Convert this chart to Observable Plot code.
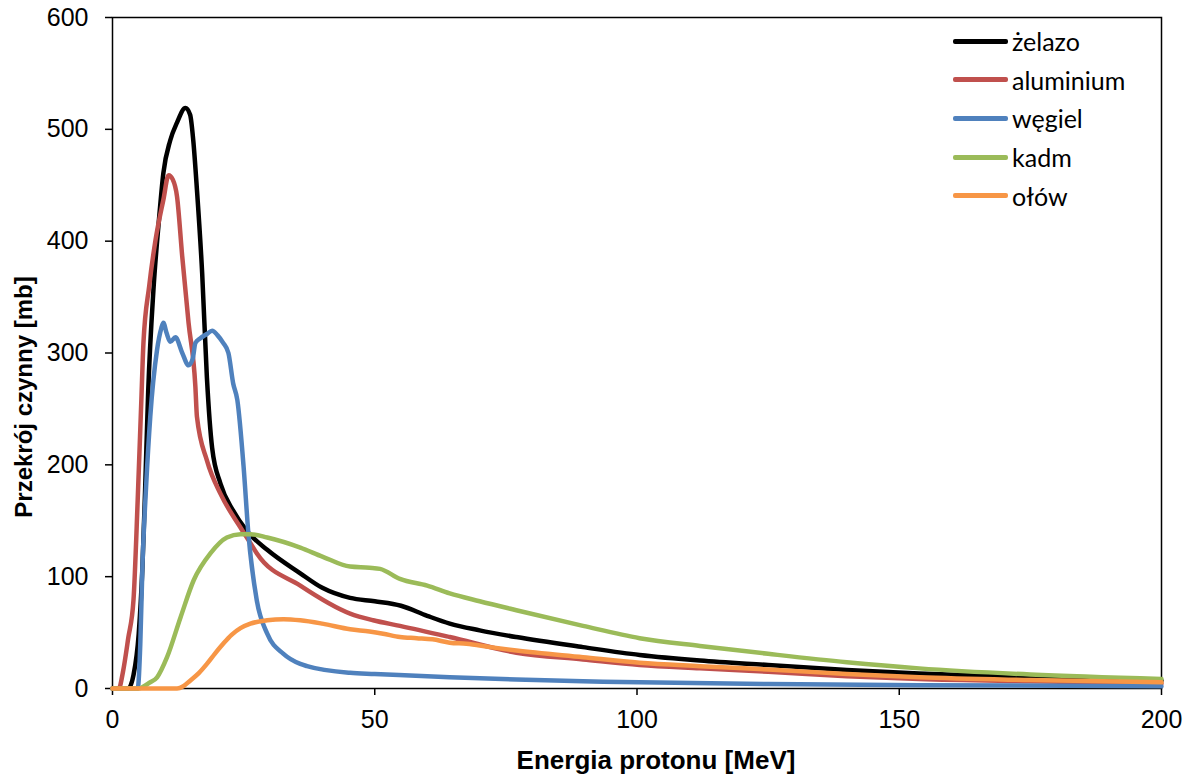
<!DOCTYPE html>
<html>
<head>
<meta charset="utf-8">
<script src="https://cdn.jsdelivr.net/npm/d3@7"></script>
<script src="https://cdn.jsdelivr.net/npm/@observablehq/plot@0.6"></script>
<style>
  html, body { margin: 0; padding: 0; background: #fff; }
  #wrap { position: relative; width: 1192px; height: 776px; }
  .title { position: absolute; font-family: "Liberation Sans", Arial, sans-serif; font-weight: bold; color: #000; white-space: nowrap; }
  #legend { position: absolute; left: 953px; top: 22px; font-family: Lato, "Open Sans", sans-serif; font-size: 25px; }
  .row { display: flex; align-items: center; height: 38.6px; }
  .sw { width: 55px; height: 5px; border-radius: 2px; margin-right: 4px; }
</style>
</head>
<body>
<div id="wrap"></div>
<script>
// Series data: energy [MeV] and cross-section [mb]
const names = ["żelazo", "aluminium", "węgiel", "kadm", "ołów"];
const colors = ["#000000", "#C0504D", "#4F81BD", "#9BBB59", "#F79646"];

const feE = [0, 3, 4, 5, 5.7, 6.2, 6.8, 7.8, 8.8, 9.7, 11, 12.3, 13.9, 14.8, 15.4, 16.1, 17.1, 18, 19, 20.6, 23, 25.6, 29.5, 35.8, 40, 45.3, 50, 55, 60, 64.3, 70, 77, 89.7, 100.5, 112, 125, 140, 153.8, 175, 200];
const feS = [0, 0, 12, 49, 108, 175, 265, 356, 416, 461, 490, 506, 519, 513, 490, 446, 371, 278, 215, 183, 159, 141, 124, 103, 90, 81, 78, 74, 65, 58, 52, 46, 37, 30, 25, 21, 16.5, 13.5, 10, 7];

const alE = [0, 1.2, 2, 3, 4, 4.8, 5.5, 5.9, 7, 8.2, 9.7, 10.7, 11.5, 12.3, 13.3, 14.5, 15.8, 16.1, 18, 20.6, 24.4, 26.3, 27.5, 35.8, 45.3, 49.7, 54.8, 64.3, 77, 89.7, 100.5, 112, 125, 140, 153.8, 175, 200];
const alS = [0, 0, 15, 45, 79, 168, 258, 309, 360, 401, 437, 459, 455, 440, 386, 327, 270, 243, 204, 174, 144, 130, 121, 92, 67, 61, 56, 46, 32, 26, 21, 18, 15, 11, 8.5, 6.5, 4.5];

const cE = [0, 4.8, 5.3, 5.7, 6.4, 7.2, 8.5, 9.3, 9.7, 10.3, 11, 12, 13.3, 14.5, 15.3, 15.8, 16.7, 18, 19, 20, 21.1, 22.1, 23, 23.8, 25, 25.9, 27.5, 29.5, 32.6, 35.8, 37.1, 45.3, 50, 64.3, 77, 89.7, 100.5, 125, 153.8, 200];
const cS = [0, 0, 40, 108, 180, 243, 303, 322, 327, 318, 310, 314, 300, 289, 295, 309, 313, 317, 320, 316, 309, 300, 273, 258, 198, 139, 79, 49, 31, 22, 20, 14, 13, 10, 8, 6.5, 5.5, 4, 3, 2];

const cdE = [0, 5, 6, 7, 8.5, 10.4, 13, 15.5, 18.7, 21.8, 24.4, 26.3, 29.5, 35.8, 40, 45.3, 49, 51, 54.8, 60, 64.3, 70, 77, 89.7, 100.5, 112, 125, 140, 153.8, 175, 200];
const cdS = [0, 0, 2, 5, 10, 28, 64, 97, 121, 135, 138, 138, 135, 126, 118, 109, 108, 107, 98, 92, 85, 78, 70, 56, 45, 38, 31, 23.5, 18, 12.5, 8.5];

const pbE = [0, 12.3, 13.5, 14.8, 16.5, 18, 19.5, 21.1, 22.7, 24.4, 26.3, 29.5, 32.6, 35.8, 40, 45.3, 49, 51.6, 54.8, 58, 61, 64.3, 67.5, 72, 77, 89.7, 100.5, 112, 125, 140, 153.8, 175, 200];
const pbS = [0, 0, 2, 7, 14, 22, 31, 40, 48, 54, 58, 61, 62, 61, 58, 53, 51, 49, 46, 45, 44, 41, 40, 37, 34, 28, 23, 20, 17, 13, 10, 7.5, 5.5];

const xTicks = [0, 50, 100, 150, 200];
const yTicks = [0, 100, 200, 300, 400, 500, 600];

const series = [[feE, feS], [alE, alS], [cE, cS], [cdE, cdS], [pbE, pbS]];
const rows = [];
series.forEach(([es, ss], i) => es.forEach((e, j) => rows.push({name: names[i], E: e, S: ss[j]})));

const font = "'Liberation Sans', Arial, sans-serif";

const chart = Plot.plot({
  width: 1192,
  height: 776,
  marginLeft: 112,
  marginRight: 31,
  marginTop: 17,
  marginBottom: 88,
  style: {fontFamily: font, background: "#fff"},
  x: {domain: [0, 200]},
  y: {domain: [0, 600]},
  color: {domain: names, range: colors},
  marks: [
    Plot.frame({stroke: "#000", strokeWidth: 1.5}),
    Plot.axisX({ticks: xTicks, tickSize: 7, tickPadding: 15, fontSize: 25, label: null, stroke: "#000", strokeWidth: 1.5, tickFormat: d => String(d), color: "#000"}),
    Plot.axisY({ticks: yTicks, tickSize: 7, tickPadding: 17, fontSize: 25, label: null, stroke: "#000", strokeWidth: 1.5, tickFormat: d => String(d), color: "#000"}),
    Plot.line(rows, {x: "E", y: "S", z: "name", stroke: "name", strokeWidth: 4.5, curve: "monotone-x", strokeLinejoin: "round", strokeLinecap: "round"})
  ]
});

const wrap = document.getElementById("wrap");
wrap.appendChild(chart);

const xt = document.createElement("div");
xt.className = "title";
xt.textContent = "Energia protonu [MeV]";
xt.style.fontSize = "26px";
xt.style.left = "656px"; xt.style.top = "760px";
xt.style.transform = "translate(-50%, -50%)";
wrap.appendChild(xt);

const yt = document.createElement("div");
yt.className = "title";
yt.textContent = "Przekrój czynny [mb]";
yt.style.fontSize = "24px";
yt.style.left = "24px"; yt.style.top = "397px";
yt.style.transform = "translate(-50%, -50%) rotate(-90deg)";
wrap.appendChild(yt);

const lg = document.createElement("div");
lg.id = "legend";
names.forEach((n, i) => {
  const r = document.createElement("div");
  r.className = "row";
  const s = document.createElement("div");
  s.className = "sw";
  s.style.background = colors[i];
  const t = document.createElement("span");
  t.textContent = n;
  r.appendChild(s); r.appendChild(t);
  lg.appendChild(r);
});
wrap.appendChild(lg);
</script>
</body>
</html>
